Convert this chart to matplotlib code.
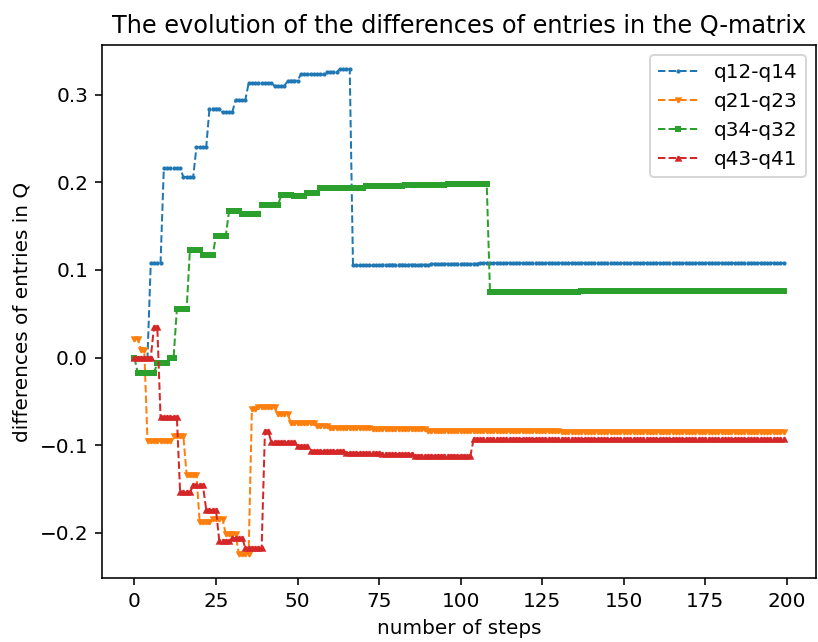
import numpy as np
import matplotlib
matplotlib.use("Agg")
import matplotlib.pyplot as plt

n_steps = 200

# Piecewise-constant readings: (first step of segment, value)
q12_q14_starts = [0, 5, 9, 15, 19, 23, 27, 31, 35, 43, 47, 51, 59, 63, 67, 76, 91, 106]
q12_q14_values = [0.0, 0.108, 0.216, 0.206, 0.240, 0.284, 0.280, 0.294, 0.313, 0.310,
                  0.316, 0.323, 0.326, 0.329, 0.105, 0.106, 0.107, 0.108]

q21_q23_starts = [0, 2, 4, 12, 16, 20, 24, 28, 32, 36, 38, 44, 48, 56, 60, 73, 90, 131]
q21_q23_values = [0.021, 0.009, -0.095, -0.090, -0.134, -0.188, -0.184, -0.202, -0.224,
                  -0.059, -0.057, -0.065, -0.075, -0.078, -0.080, -0.082, -0.084, -0.085]

q34_q32_starts = [0, 1, 7, 11, 13, 17, 21, 25, 29, 33, 39, 45, 49, 53, 57, 71, 83, 96, 109, 137]
q34_q32_values = [0.0, -0.018, -0.006, 0.0, 0.055, 0.123, 0.117, 0.139, 0.167, 0.164,
                  0.174, 0.185, 0.184, 0.188, 0.193, 0.196, 0.197, 0.198, 0.075, 0.076]

q43_q41_starts = [0, 6, 8, 14, 18, 22, 26, 30, 34, 40, 42, 50, 54, 65, 76, 86, 104]
q43_q41_values = [0.0, 0.035, -0.068, -0.154, -0.146, -0.174, -0.209, -0.206, -0.217,
                  -0.084, -0.097, -0.101, -0.107, -0.109, -0.110, -0.112, -0.093]

labels = ["q12-q14", "q21-q23", "q34-q32", "q43-q41"]
markers = [".", "v", "s", "^"]


def expand(starts, values):
    lengths = np.diff(starts + [n_steps])
    return np.repeat(values, lengths)


series = [
    expand(q12_q14_starts, q12_q14_values),
    expand(q21_q23_starts, q21_q23_values),
    expand(q34_q32_starts, q34_q32_values),
    expand(q43_q41_starts, q43_q41_values),
]
steps = np.arange(n_steps)

fig = plt.figure(figsize=(818 / 144, 642 / 144), dpi=144)
ax = fig.add_axes([102 / 818, 64 / 642, 714 / 818, 533 / 642])

for y, lab, mk in zip(series, labels, markers):
    ax.plot(steps, y, linestyle="--", linewidth=1, marker=mk, markersize=2.2, label=lab)

ax.set_title("The evolution of the differences of entries in the Q-matrix")
ax.set_xlabel("number of steps")
ax.set_ylabel("differences of entries in Q")
ax.legend(loc="upper right")

fig.savefig("out.png", dpi=144)
